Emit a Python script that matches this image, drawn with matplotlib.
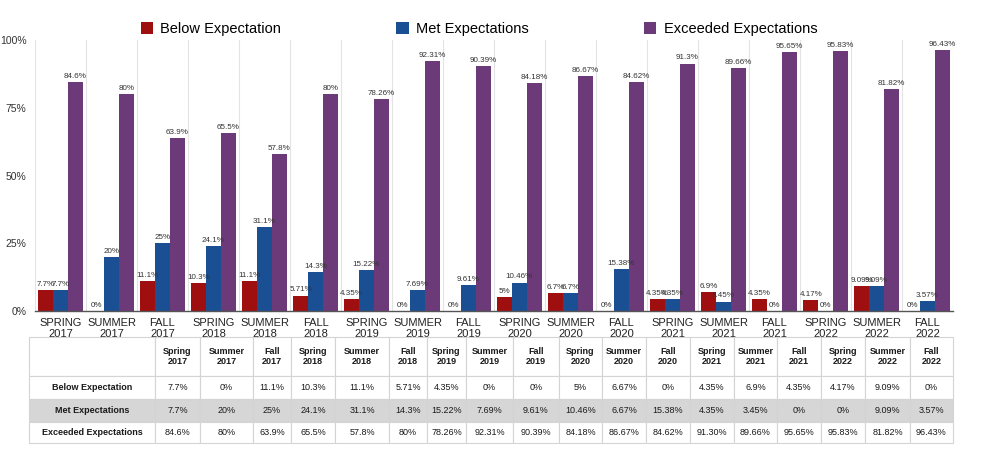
import numpy as np
import matplotlib
matplotlib.use("Agg")
import matplotlib.pyplot as plt
from matplotlib.patches import Patch

plt.rcParams["font.family"] = ["Liberation Sans Narrow", "Liberation Sans", "DejaVu Sans"]

terms = ["Spring 2017", "Summer 2017", "Fall 2017", "Spring 2018", "Summer 2018", "Fall 2018",
         "Spring 2019", "Summer 2019", "Fall 2019", "Spring 2020", "Summer 2020", "Fall 2020",
         "Spring 2021", "Summer 2021", "Fall 2021", "Spring 2022", "Summer 2022", "Fall 2022"]

series = ["Below Expectation", "Met Expectations", "Exceeded Expectations"]
colors = ["#a00f10", "#1b4f93", "#6d3a79"]

below = [7.7, 0, 11.1, 10.3, 11.1, 5.71, 4.35, 0, 0, 5, 6.67, 0, 4.35, 6.9, 4.35, 4.17, 9.09, 0]
met = [7.7, 20, 25, 24.1, 31.1, 14.3, 15.22, 7.69, 9.61, 10.46, 6.67, 15.38, 4.35, 3.45, 0, 0, 9.09, 3.57]
exceeded = [84.6, 80, 63.9, 65.5, 57.8, 80, 78.26, 92.31, 90.39, 84.18, 86.67, 84.62,
            91.3, 89.66, 95.65, 95.83, 81.82, 96.43]

# labels as printed above the bars
below_lbl = ["7.7%", "0%", "11.1%", "10.3%", "11.1%", "5.71%", "4.35%", "0%", "0%", "5%", "6.7%", "0%",
             "4.35%", "6.9%", "4.35%", "4.17%", "9.09%", "0%"]
met_lbl = ["7.7%", "20%", "25%", "24.1%", "31.1%", "14.3%", "15.22%", "7.69%", "9.61%", "10.46%", "6.7%",
           "15.38%", "4.35%", "3.45%", "0%", "0%", "9.09%", "3.57%"]
exc_lbl = ["84.6%", "80%", "63.9%", "65.5%", "57.8%", "80%", "78.26%", "92.31%", "90.39%", "84.18%",
           "86.67%", "84.62%", "91.3%", "89.66%", "95.65%", "95.83%", "81.82%", "96.43%"]

# labels as printed in the table
below_tbl = ["7.7%", "0%", "11.1%", "10.3%", "11.1%", "5.71%", "4.35%", "0%", "0%", "5%", "6.67%", "0%",
             "4.35%", "6.9%", "4.35%", "4.17%", "9.09%", "0%"]
met_tbl = ["7.7%", "20%", "25%", "24.1%", "31.1%", "14.3%", "15.22%", "7.69%", "9.61%", "10.46%", "6.67%",
           "15.38%", "4.35%", "3.45%", "0%", "0%", "9.09%", "3.57%"]
exc_tbl = ["84.6%", "80%", "63.9%", "65.5%", "57.8%", "80%", "78.26%", "92.31%", "90.39%", "84.18%",
           "86.67%", "84.62%", "91.30%", "89.66%", "95.65%", "95.83%", "81.82%", "96.43%"]

fig = plt.figure(figsize=(9.82, 4.59), dpi=100)
ax = fig.add_axes([35 / 982, 1 - 311 / 459, 918 / 982, 271 / 459])

x = np.arange(len(terms))
w = 0.29
for i, (vals, lbls) in enumerate([(below, below_lbl), (met, met_lbl), (exceeded, exc_lbl)]):
    pos = x + (i - 1) * w
    ax.bar(pos, vals, w, color=colors[i], zorder=2)
    for p, v, t in zip(pos, vals, lbls):
        ax.text(p, v + 0.8, t, ha="center", va="bottom", fontsize=5.8, color="#333333")

ax.set_xlim(-0.5, len(terms) - 0.5)
ax.set_ylim(0, 100)
ax.set_yticks([0, 25, 50, 75, 100])
ax.set_yticklabels(["0%", "25%", "50%", "75%", "100%"], fontsize=7.5, color="#333333")
ax.set_xticks(x)
ax.set_xticklabels([t.upper().replace(" ", "\n") for t in terms], fontsize=8, color="#222222",
                   linespacing=1.1)
ax.tick_params(axis="x", length=0, pad=5)
ax.tick_params(axis="y", length=0, pad=6)
ax.set_xticks(np.arange(-0.5, len(terms)), minor=True)
ax.tick_params(which="minor", length=0)
ax.grid(axis="x", which="minor", color="#e3e3e3", linewidth=0.8, zorder=0)
for s in ["top", "right", "left"]:
    ax.spines[s].set_visible(False)
ax.spines["bottom"].set_color("#555555")
ax.spines["bottom"].set_linewidth(1.0)

handles = [Patch(facecolor=c, label=s) for c, s in zip(colors, series)]
fig.legend(handles=handles, loc="center", bbox_to_anchor=(479 / 982, 1 - 29 / 459), ncol=3,
           frameon=False, fontsize=10.5, handlelength=0.85, handleheight=0.85, handletextpad=0.5,
           columnspacing=7.9)

# table below the chart
tax = fig.add_axes([29 / 982, 1 - 443 / 459, 924 / 982, 106 / 459])
tax.axis("off")
header = [""] + [t.replace(" ", "\n") for t in terms]
rows = [header,
        [series[0]] + below_tbl,
        [series[1]] + met_tbl,
        [series[2]] + exc_tbl]
bounds = [29, 155, 200, 253, 291, 335, 389, 427, 466, 513, 559, 602, 646, 690, 734, 777, 821, 865, 910, 953]
col_w = np.diff(bounds) / (bounds[-1] - bounds[0])
tbl = tax.table(cellText=rows, colWidths=col_w, cellLoc="center", bbox=[0, 0, 1, 1])
tbl.auto_set_font_size(False)
row_h = [39, 23, 23, 21]
for (r, c), cell in tbl.get_celld().items():
    cell.set_height(row_h[r] / 106)
    cell.set_edgecolor("#d4d4d4")
    cell.set_linewidth(0.8)
    cell.get_text().set_fontsize(6.5)
    cell.get_text().set_color("#1a1a1a")
    if r == 0 or c == 0:
        cell.get_text().set_fontweight("bold")
    if r == 2:
        cell.set_facecolor("#d6d6d6")

fig.savefig("out.png", dpi=100, facecolor="white")
